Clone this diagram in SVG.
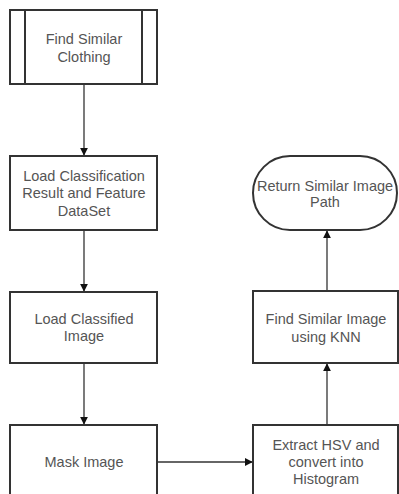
<svg xmlns="http://www.w3.org/2000/svg" width="399" height="494" viewBox="0 0 399 494">
<style>
.box{fill:#fff;stroke:#333;stroke-width:2}
.ln{fill:none;stroke:#333;stroke-width:1.3}
.t{font-family:"Liberation Sans",Arial,sans-serif;font-size:14.5px;fill:#555;text-anchor:middle}
</style>
<defs>
<marker id="ah" viewBox="0 0 10 10" refX="9" refY="5" markerWidth="8" markerHeight="8" markerUnits="userSpaceOnUse" orient="auto">
<path d="M0,0 L10,5 L0,10 Z" fill="#111"/>
</marker>
</defs>
<rect width="399" height="494" fill="#fff"/>
<g id="connectors">
<line class="ln" x1="84" y1="84" x2="84" y2="155" marker-end="url(#ah)"/>
<line class="ln" x1="84" y1="230" x2="84" y2="291" marker-end="url(#ah)"/>
<line class="ln" x1="84" y1="363" x2="84" y2="424" marker-end="url(#ah)"/>
<line class="ln" x1="157" y1="462" x2="252" y2="462" marker-end="url(#ah)"/>
<line class="ln" x1="327" y1="425" x2="327" y2="364" marker-end="url(#ah)"/>
<line class="ln" x1="327" y1="291" x2="327" y2="231" marker-end="url(#ah)"/>
</g>
<g id="n1">
<rect class="box" x="10" y="10" width="147" height="74"/>
<line class="box" x1="25" y1="10" x2="25" y2="84"/>
<line class="box" x1="142" y1="10" x2="142" y2="84"/>
<text class="t" x="84" y="44">Find Similar</text>
<text class="t" x="84" y="62">Clothing</text>
</g>
<g id="n2">
<rect class="box" x="10" y="156" width="147" height="74"/>
<text class="t" x="84" y="181">Load Classification</text>
<text class="t" x="84" y="198">Result and Feature</text>
<text class="t" x="84" y="216">DataSet</text>
</g>
<g id="n3">
<rect class="box" x="10" y="292" width="147" height="71"/>
<text class="t" x="84" y="324">Load Classified</text>
<text class="t" x="84" y="341">Image</text>
</g>
<g id="n4">
<rect class="box" x="10" y="425" width="147" height="80"/>
<text class="t" x="84" y="467">Mask Image</text>
</g>
<g id="n5">
<rect class="box" x="253" y="425" width="145" height="80"/>
<text class="t" x="326" y="450">Extract HSV and</text>
<text class="t" x="326" y="467">convert into</text>
<text class="t" x="326" y="484">Histogram</text>
</g>
<g id="n6">
<rect class="box" x="253" y="291" width="145" height="72"/>
<text class="t" x="326" y="324">Find Similar Image</text>
<text class="t" x="326" y="342">using KNN</text>
</g>
<g id="n7">
<rect class="box" x="253" y="156" width="144" height="74" rx="37" ry="37"/>
<text class="t" x="325" y="191">Return Similar Image</text>
<text class="t" x="325" y="207">Path</text>
</g>
</svg>
